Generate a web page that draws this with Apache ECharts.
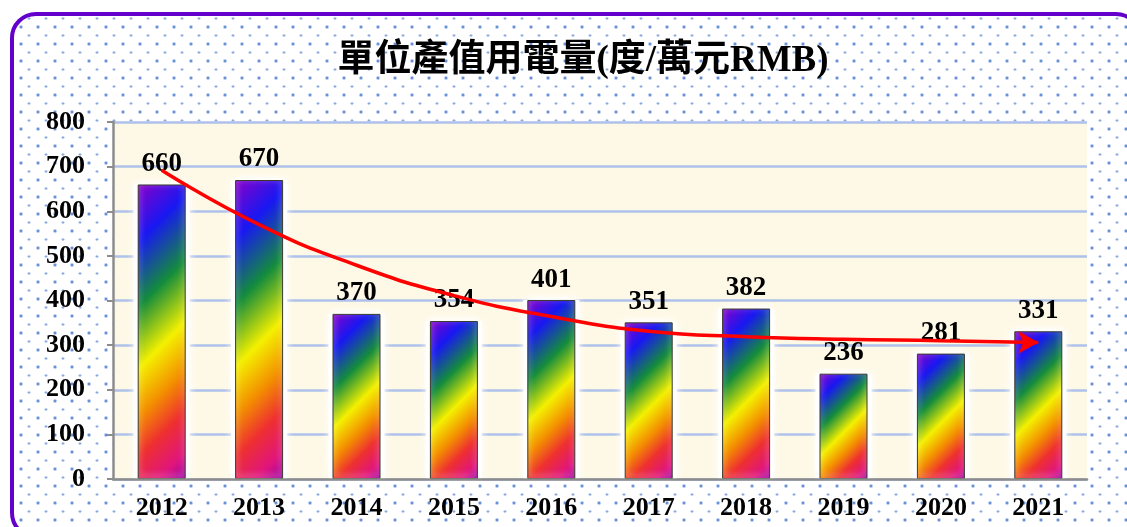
<!DOCTYPE html>
<html>
<head>
<meta charset="utf-8">
<script src="https://cdn.jsdelivr.net/npm/echarts@6/dist/echarts.min.js"></script>
<style>
  html, body { margin: 0; padding: 0; background: #fff; overflow: hidden; }
  #frame {
    position: absolute; left: 10px; top: 12px; width: 1124px; height: 519px;
    border: 4px solid #6400CC; border-radius: 26px;
    background-color: #fff;
    background-image:
      radial-gradient(circle, #4F80D0 1.1px, transparent 1.7px),
      radial-gradient(circle, #7FA3DC 0.9px, transparent 1.5px);
    background-size: 17px 17px, 17px 17px;
    background-position: -1.5px 2.5px, 6.5px 11px;
  }
  #chart { position: absolute; left: 0; top: 0; width: 1127px; height: 527px; }
</style>
</head>
<body>
<div id="frame"></div>
<div id="chart"></div>
<script>
const titleText = "單位產值用電量(度/萬元RMB)";
const years = ["2012", "2013", "2014", "2015", "2016", "2017", "2018", "2019", "2020", "2021"];
const usage = [660, 670, 370, 354, 401, 351, 382, 236, 281, 331];
// hand-drawn red trend arrow at each year
const trend = [692, 570, 479, 411, 364, 331, 319, 313, 310, 306];
const yTicks = { min: 0, max: 800, step: 100 };

const serif = "'Liberation Serif', 'Times New Roman', 'Noto Sans CJK TC', serif";
const gridBox = { left: 113, right: 40, top: 122, bottom: 48 };
const barW = 48;
const plotH = 527 - gridBox.top - gridBox.bottom;

// diagonal rainbow, 45 degrees in screen space like the office chart fill
function rainbow(v) {
    const h = Math.max(v / yTicks.max * plotH, 1);
    const d = (barW + h) / 2;
    return new echarts.graphic.LinearGradient(0, 0, d / barW, d / h, [
        { offset: 0, color: '#8A00C8' },
        { offset: 0.17, color: '#1818F2' },
        { offset: 0.36, color: '#148C3C' },
        { offset: 0.54, color: '#F4F000' },
        { offset: 0.68, color: '#F39000' },
        { offset: 0.8, color: '#EE3030' },
        { offset: 0.92, color: '#E0157C' },
        { offset: 1, color: '#9A00A8' }
    ]);
}

const chart = echarts.init(document.getElementById('chart'));
chart.setOption({
    animation: false,
    backgroundColor: 'transparent',
    title: {
        text: titleText,
        left: 578,
        textAlign: 'center',
        top: 38,
        textStyle: { fontFamily: serif, fontWeight: 'bold', fontSize: 37, color: '#000' }
    },
    grid: Object.assign({ show: true, backgroundColor: '#FEF9E6', borderWidth: 0 }, gridBox),
    xAxis: [
        {
            type: 'category',
            data: years,
            z: 10,
            axisLine: { lineStyle: { color: '#8C8C8C', width: 2.5 } },
            axisTick: { length: 7, lineStyle: { color: '#8C8C8C', width: 2 } },
            axisLabel: { margin: 16, fontFamily: serif, fontWeight: 'bold', fontSize: 26, color: '#000' }
        },
        // hidden twin axis so the halo bars are laid out on their own
        { type: 'category', data: years, show: false }
    ],
    yAxis: {
        type: 'value',
        min: yTicks.min,
        max: yTicks.max,
        interval: yTicks.step,
        axisLine: { show: true, lineStyle: { color: '#8C8C8C', width: 2.5 } },
        axisTick: { show: true, length: 6, lineStyle: { color: '#8C8C8C', width: 2 } },
        axisLabel: { margin: 28, fontFamily: serif, fontWeight: 'bold', fontSize: 26, color: '#000' },
        splitLine: { lineStyle: { color: '#AEC1EA', width: 2.5 } }
    },
    series: [
        {
            // white halo behind each bar
            type: 'bar',
            xAxisIndex: 1,
            barWidth: barW + 8,
            silent: true,
            z: 1,
            data: usage,
            itemStyle: {
                color: '#ffffff',
                shadowColor: '#ffffff',
                shadowBlur: 8
            }
        },
        {
            type: 'bar',
            barWidth: barW,
            z: 2,
            data: usage.map(v => ({
                value: v,
                itemStyle: {
                    color: rainbow(v),
                    borderColor: '#3A3A2A',
                    borderWidth: 1,
                    shadowColor: '#ffffff',
                    shadowBlur: 6,
                    shadowOffsetY: -2
                }
            })),
            label: {
                show: true,
                position: 'top',
                distance: 7,
                fontFamily: serif,
                fontWeight: 'bold',
                fontSize: 27,
                color: '#000'
            }
        },
        {
            type: 'line',
            smooth: 0.5,
            symbol: 'none',
            z: 5,
            lineStyle: { color: '#FF0000', width: 3.5 },
            data: trend.map((v, i) => i === trend.length - 1
                ? { value: v, symbol: 'arrow', symbolSize: [17, 20], symbolRotate: -90,
                    itemStyle: { color: '#FF0000' } }
                : v)
        }
    ]
});
</script>
</body>
</html>
